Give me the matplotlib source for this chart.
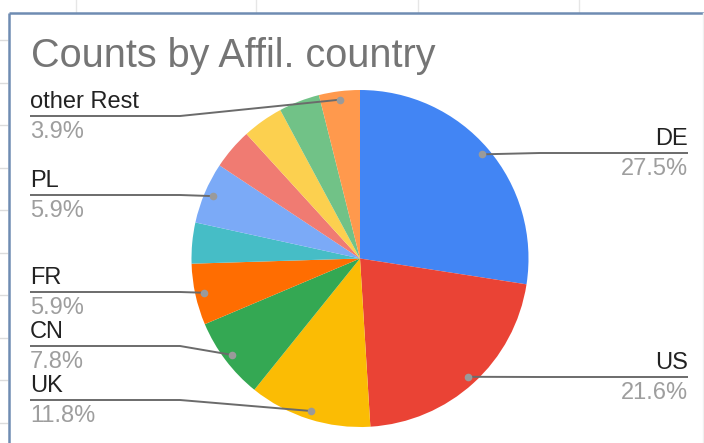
import matplotlib
matplotlib.use("Agg")
import matplotlib.pyplot as plt
import numpy as np

# ---- data ----
title = "Counts by Affil. country"
countries = ["DE", "US", "UK", "CN", "FR", "", "PL", "", "", "", "other Rest"]
counts = [14, 11, 6, 4, 3, 2, 3, 2, 2, 2, 2]
colors = ["#4285F4", "#EA4335", "#FBBC04", "#34A853", "#FF6D01", "#46BDC6",
          "#7BAAF7", "#F07B72", "#FCD04F", "#71C287", "#FF994D"]

# ---- layout (pixel coordinates, y from top) ----
W, H = 704, 443
label_line_y = {"DE": 153, "US": 377, "UK": 400, "CN": 346, "FR": 292,
                "PL": 195, "other Rest": 116}
font = "Liberation Sans"

fig = plt.figure(figsize=(W / 100, H / 100), dpi=100)
fig.patch.set_facecolor("white")
ax = fig.add_axes([0, 0, 1, 1])

def Y(y):
    return H - y

cx, cy, R = 360, 258.5, 168.5
wedges, _ = ax.pie(counts, colors=colors, startangle=90, counterclock=False,
                   center=(cx, Y(cy)), radius=R,
                   wedgeprops=dict(linewidth=0))
ax.set_xlim(0, W)
ax.set_ylim(0, H)
ax.set_aspect("auto")
ax.axis("off")

# spreadsheet background bits outside the chart frame
for gx in [76, 256, 418, 579]:
    ax.plot([gx, gx], [Y(0), Y(12)], color="#e6e6e6", lw=1, zorder=0)
for gy in [40, 82.5, 125, 168, 210, 253, 295, 338, 380, 423]:
    ax.plot([0, 7], [Y(gy), Y(gy)], color="#dcdcdc", lw=1, zorder=0)

# chart frame
ax.plot([8.5, 8.5], [Y(443), Y(13)], color="#6f8cb2", lw=1.8, zorder=5,
        solid_capstyle="butt")
ax.plot([8.5, 704], [Y(13), Y(13)], color="#6f8cb2", lw=1.8, zorder=5,
        solid_capstyle="butt")
ax.plot([702.5, 702.5], [Y(13), Y(443)], color="#f0f0f0", lw=1, zorder=5)

# title
ax.text(31, Y(67), title, fontsize=28.5, color="#757575", family=font,
        ha="left", va="baseline")

# labels with leader lines
total = sum(counts)
for w, name, c in zip(wedges, countries, counts):
    if not name:
        continue
    mid = np.deg2rad((w.theta1 + w.theta2) / 2)
    dx = cx + 0.95 * R * np.cos(mid)
    dy = Y(cy) + 0.95 * R * np.sin(mid)
    ly = label_line_y[name]
    pct = f"{100 * c / total:.1f}%"
    if dx < cx:
        xs = [30, 180, dx]
        tx, ha = 30, "left"
    else:
        xs = [688, 540, dx]
        tx, ha = 688, "right"
    ax.plot(xs, [Y(ly), Y(ly), dy], color="#6b6b6b", lw=1.4, zorder=6,
            solid_capstyle="butt")
    ax.plot([dx], [dy], "o", ms=5.5, color="#9a9a9a", mec="none", zorder=7)
    ax.text(tx, Y(ly - 8), name, fontsize=17, color="#222222", family=font,
            ha=ha, va="baseline")
    ax.text(tx, Y(ly + 22), pct, fontsize=17, color="#9e9e9e", family=font,
            ha=ha, va="baseline")

fig.savefig("out.png", dpi=100, facecolor="white")
